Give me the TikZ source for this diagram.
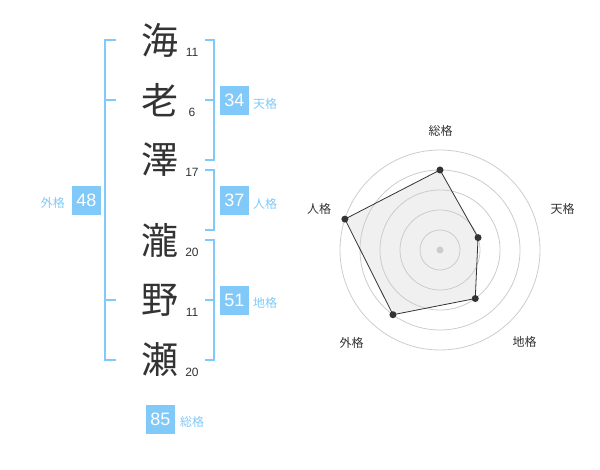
\documentclass[tikz,border=0pt]{standalone}
\usepackage{fontspec}
\setmainfont{Liberation Sans}
\newfontfamily\jp{Noto Sans CJK JP}
\definecolor{kakublue}{HTML}{80C9F9}
\definecolor{ink}{HTML}{333333}
\definecolor{ring}{HTML}{CCCCCC}
\begin{document}
\begin{tikzpicture}[x=1pt,y=-1pt,
  kanji/.style={font=\jp\fontsize{37}{37}\selectfont,text=ink,inner sep=0pt},
  strokes/.style={font=\fontsize{12}{12}\selectfont,text=ink,inner sep=0pt},
  kakubox/.style={fill=kakublue,text=white,minimum size=29pt,inner sep=0pt,
    font=\fontsize{18}{18}\selectfont},
  kakuname/.style={font=\jp\fontsize{12}{12}\selectfont,text=kakublue,inner sep=0pt},
  bracket/.style={draw=kakublue,line width=2pt},
  axisname/.style={font=\jp\fontsize{12}{12}\selectfont,text=ink,inner sep=0pt},
  dot/.style={circle,fill=ink,inner sep=0pt,minimum size=7pt}]
  \useasboundingbox (0,0) rectangle (600,470);

  \foreach \k/\s/\y [count=\i] in
    {海/11/40,老/6/100,澤/17/160,瀧/20/240,野/11/300,瀬/20/360}
  {
    \node[kanji] (k\i) at (160,\y) {\k};
    \node[strokes] (s\i) at (192,\y+12.5) {\s};
  }

  \draw[bracket] (116,40) -- (105,40) -- (105,360) -- (116,360)
    (105,100) -- (116,100) (105,300) -- (116,300);
  \draw[bracket] (205,40) -- (214,40) -- (214,160) -- (205,160)
    (205,100) -- (214,100);
  \draw[bracket] (205,170) -- (214,170) -- (214,230) -- (205,230);
  \draw[bracket] (205,240) -- (214,240) -- (214,360) -- (205,360)
    (205,300) -- (214,300);

  \node[kakubox] (ten) at (234.5,100.5) {34};
  \node[kakuname,anchor=west] at (253,104) {天格};
  \node[kakubox] (jin) at (234.5,200.5) {37};
  \node[kakuname,anchor=west] at (253,204) {人格};
  \node[kakubox] (chi) at (234.5,300.5) {51};
  \node[kakuname,anchor=west] at (253,303) {地格};
  \node[kakubox] (gai) at (86.5,200.5) {48};
  \node[kakuname,anchor=east] at (65,203) {外格};
  \node[kakubox] (sou) at (160.5,419) {85};
  \node[kakuname,anchor=west] at (180,422) {総格};

  \begin{scope}[shift={(440,250)}]
    \coordinate (c) at (0,0);
    \foreach \a/\r [count=\i] in {-90/80,-18/40,54/60,126/80,198/100}
      \coordinate (v\i) at (\a:\r);
    \foreach \n/\x/\y [count=\i] in
      {総格/0.5/-119.5,天格/122.5/-41.5,地格/84.5/92,外格/-88.5/92.5,人格/-121/-41.5}
      \node[axisname] (l\i) at (\x,\y) {\n};
    \fill[black!6] (v1) -- (v2) -- (v3) -- (v4) -- (v5) -- cycle;
    \foreach \r in {20,40,...,100}
      \draw[ring,line width=0.8pt] (c) circle (\r);
    \draw[ink,line width=0.8pt] (v1) -- (v2) -- (v3) -- (v4) -- (v5) -- cycle;
    \foreach \i in {1,...,5}
      \node[dot] at (v\i) {};
    \fill[ring] (c) circle (3.5);
  \end{scope}
\end{tikzpicture}
\end{document}
